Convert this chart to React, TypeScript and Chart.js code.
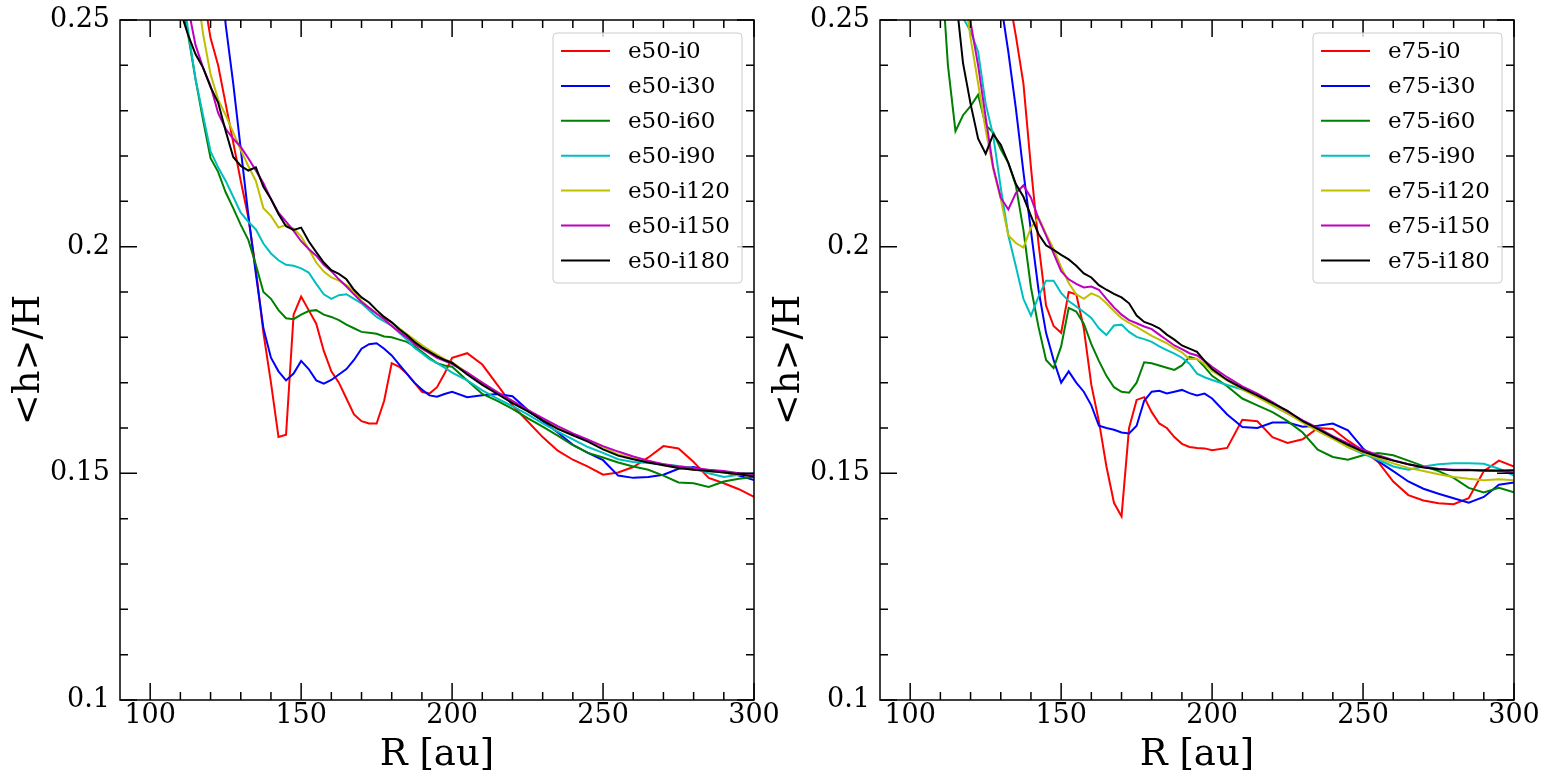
import React, { useEffect, useRef } from 'react';
import { Chart, registerables } from 'chart.js';

Chart.register(...registerables);

// radial grid [au]
const radius = [
  100, 102.5, 105, 107.5, 110, 112.5, 115, 117.5, 120, 122.5,
  125, 127.5, 130, 132.5, 135, 137.5, 140, 142.5, 145, 147.5,
  150, 152.5, 155, 157.5, 160, 162.5, 165, 167.5, 170, 172.5,
  175, 177.5, 180, 182.5, 185, 187.5, 190, 192.5, 195, 197.5,
  200,
  205, 210, 215, 220, 225, 230, 235, 240, 245, 250,
  255, 260, 265, 270, 275, 280, 285, 290, 295, 300,
];

const xMajorTicks = [100, 150, 200, 250, 300];
const xMinorTicks = [110, 120, 130, 140, 160, 170, 180, 190, 210, 220, 230, 240, 260, 270, 280, 290];
const yMajorTicks = [0.1, 0.15, 0.2, 0.25];
const yMinorTicks = [0.11, 0.12, 0.13, 0.14, 0.16, 0.17, 0.18, 0.19, 0.21, 0.22, 0.23, 0.24];

const inclinations = ['i0', 'i30', 'i60', 'i90', 'i120', 'i150', 'i180'];
const lineColours = ['#ff0000', '#0000ff', '#008000', '#00bfbf', '#bfbf00', '#bf00bf', '#000000'];

// e = 0.50
const e50i0 = [
  0.33, 0.32, 0.31, 0.30, 0.29, 0.28, 0.268, 0.256, 0.246, 0.240,
  0.2315, 0.223, 0.2145, 0.2065, 0.195, 0.181, 0.170, 0.158, 0.1585, 0.185,
  0.189, 0.186, 0.183, 0.177, 0.1725, 0.170, 0.1665, 0.163, 0.1615, 0.161,
  0.161, 0.166, 0.1743, 0.1735, 0.172, 0.170, 0.168, 0.1676, 0.169, 0.172,
  0.1755,
  0.1765, 0.174, 0.1695, 0.165, 0.1615, 0.158, 0.155, 0.153, 0.1515, 0.1497,
  0.1502, 0.1514, 0.1535, 0.156, 0.1555, 0.1525, 0.149, 0.1478, 0.1465, 0.1448,
];
const e50i30 = [
  0.40, 0.39, 0.38, 0.37, 0.36, 0.345, 0.33, 0.31, 0.29, 0.268,
  0.249, 0.236, 0.2215, 0.207, 0.194, 0.182, 0.1755, 0.1725, 0.1705, 0.172,
  0.1748, 0.173, 0.1705, 0.1698, 0.1706, 0.1718, 0.173, 0.175, 0.1775, 0.1785,
  0.1787, 0.1775, 0.176, 0.174, 0.172, 0.170, 0.1685, 0.1672, 0.1669, 0.1675,
  0.168,
  0.1668, 0.1672, 0.1675, 0.167, 0.164, 0.1615, 0.159, 0.1563, 0.1545, 0.1529,
  0.1495, 0.149, 0.1492, 0.1497, 0.151, 0.1514, 0.1505, 0.1503, 0.1495, 0.1485,
];
const e50i60 = [
  0.30, 0.29, 0.28, 0.268, 0.256, 0.247, 0.237, 0.228, 0.2195, 0.2165,
  0.212, 0.2085, 0.2048, 0.2015, 0.196, 0.190, 0.1885, 0.186, 0.1842, 0.184,
  0.185, 0.1858, 0.186, 0.185, 0.1845, 0.1838, 0.1828, 0.182, 0.1812, 0.181,
  0.1808, 0.1802, 0.180, 0.1795, 0.179, 0.178, 0.1768, 0.1755, 0.1743, 0.1738,
  0.1735,
  0.1705, 0.1675, 0.166, 0.1642, 0.1622, 0.1603, 0.1583, 0.1562, 0.1545, 0.1535,
  0.1524, 0.1515, 0.1508, 0.1495, 0.148, 0.1478, 0.147, 0.1482, 0.1488, 0.1492,
];
const e50i90 = [
  0.31, 0.30, 0.29, 0.275, 0.26, 0.248, 0.237, 0.229, 0.221, 0.2175,
  0.2145, 0.211, 0.2075, 0.2055, 0.2038, 0.2007, 0.1985, 0.197, 0.196, 0.1958,
  0.1952, 0.1943, 0.1918, 0.1895, 0.1885, 0.1893, 0.1895, 0.1885, 0.1875, 0.186,
  0.1845, 0.1835, 0.1826, 0.181, 0.1795, 0.1777, 0.1765, 0.1752, 0.1743, 0.1733,
  0.1722,
  0.1705, 0.1683, 0.1665, 0.1648, 0.163, 0.161, 0.1592, 0.1575, 0.1558, 0.1545,
  0.1531, 0.1525, 0.1523, 0.152, 0.1516, 0.1512, 0.15, 0.1492, 0.1497, 0.15,
];
const e50i120 = [
  0.32, 0.31, 0.30, 0.29, 0.28, 0.27, 0.259, 0.247, 0.238, 0.2325,
  0.229, 0.2252, 0.2213, 0.2178, 0.2145, 0.2085, 0.2068, 0.2042, 0.2048, 0.204,
  0.2022, 0.1995, 0.1965, 0.1945, 0.1932, 0.1925, 0.1915, 0.1902, 0.188, 0.1865,
  0.1853, 0.1843, 0.1833, 0.182, 0.1807, 0.1795, 0.1783, 0.1772, 0.1762, 0.1752,
  0.1745,
  0.1722, 0.1698, 0.1678, 0.1658, 0.1638, 0.1618, 0.16, 0.1585, 0.1572, 0.1558,
  0.1542, 0.1533, 0.1526, 0.1518, 0.1513, 0.1508, 0.1505, 0.1502, 0.1497, 0.1495,
];
const e50i150 = [
  0.31, 0.30, 0.29, 0.28, 0.268, 0.253, 0.2445, 0.2395, 0.2355, 0.2295,
  0.226, 0.2238, 0.222, 0.2195, 0.2168, 0.214, 0.2105, 0.2075, 0.2055, 0.2035,
  0.2012, 0.1995, 0.198, 0.196, 0.1946, 0.1928, 0.1912, 0.1895, 0.1878, 0.1865,
  0.1852, 0.184, 0.1825, 0.1812, 0.18, 0.1785, 0.1775, 0.1765, 0.1755, 0.1748,
  0.1741,
  0.1722, 0.17, 0.1679, 0.166, 0.164, 0.1622, 0.1604, 0.1588, 0.1574, 0.156,
  0.1548, 0.1537, 0.1528, 0.152, 0.1515, 0.1512, 0.1508, 0.1505, 0.15, 0.1498,
];
const e50i180 = [
  0.29, 0.28, 0.272, 0.262, 0.252, 0.2468, 0.2425, 0.2395, 0.2352, 0.2318,
  0.2255, 0.2198, 0.2178, 0.2168, 0.2175, 0.2132, 0.2105, 0.2072, 0.2045, 0.2037,
  0.2042, 0.2012, 0.1988, 0.1965, 0.1948, 0.194, 0.1928, 0.1905, 0.1888, 0.1877,
  0.186, 0.1845, 0.1833, 0.1818, 0.1805, 0.179, 0.1778, 0.1768, 0.1758, 0.175,
  0.1744,
  0.1718, 0.1695, 0.1675, 0.1655, 0.1637, 0.1617, 0.1598, 0.1584, 0.157, 0.1553,
  0.1539, 0.1531, 0.1524, 0.1518, 0.1512, 0.1508, 0.1505, 0.1502, 0.1498, 0.1493,
];

// e = 0.75
const e75i0 = [
  0.40, 0.39, 0.38, 0.37, 0.36, 0.35, 0.34, 0.33, 0.32, 0.31,
  0.295, 0.28, 0.268, 0.256, 0.2465, 0.236, 0.2175, 0.2007, 0.187, 0.1825,
  0.181, 0.190, 0.1895, 0.182, 0.1695, 0.1615, 0.1515, 0.1435, 0.1405, 0.160,
  0.1662, 0.1668, 0.1635, 0.161, 0.160, 0.158, 0.1565, 0.1558, 0.1556, 0.1555,
  0.1551,
  0.1556, 0.1618, 0.1615, 0.158, 0.1567, 0.1575, 0.160, 0.1598, 0.1572, 0.155,
  0.1525, 0.1482, 0.1452, 0.144, 0.1434, 0.1432, 0.1445, 0.1505, 0.1528, 0.1515,
];
const e75i30 = [
  0.37, 0.36, 0.35, 0.34, 0.33, 0.32, 0.31, 0.30, 0.29, 0.28,
  0.27, 0.262, 0.254, 0.243, 0.2305, 0.2165, 0.2035, 0.1905, 0.181, 0.175,
  0.170, 0.1725, 0.170, 0.168, 0.165, 0.1605, 0.160, 0.1596, 0.159, 0.1588,
  0.1605, 0.166, 0.168, 0.1682, 0.1676, 0.168, 0.1684, 0.1677, 0.1672, 0.1676,
  0.1665,
  0.163, 0.1602, 0.16, 0.1612, 0.1612, 0.1603, 0.1605, 0.161, 0.1595, 0.1555,
  0.1527, 0.1505, 0.1482, 0.1466, 0.1455, 0.1445, 0.1435, 0.1448, 0.1475, 0.148,
];
const e75i60 = [
  0.36, 0.34, 0.32, 0.30, 0.265, 0.240, 0.2255, 0.229, 0.231, 0.2335,
  0.2268, 0.2252, 0.2215, 0.2185, 0.2135, 0.2037, 0.191, 0.1823, 0.175, 0.1732,
  0.178, 0.1865, 0.1857, 0.183, 0.1785, 0.1748, 0.1715, 0.169, 0.168, 0.1678,
  0.170, 0.1745, 0.1743, 0.1738, 0.1733, 0.1728, 0.1738, 0.1757, 0.1752, 0.1735,
  0.1715,
  0.1692, 0.1665, 0.165, 0.1635, 0.1615, 0.159, 0.1552, 0.1536, 0.153, 0.154,
  0.1545, 0.154, 0.1528, 0.1516, 0.1505, 0.149, 0.1468, 0.1458, 0.1468, 0.1458,
];
const e75i90 = [
  0.34, 0.33, 0.32, 0.31, 0.30, 0.29, 0.275, 0.2505, 0.2475, 0.243,
  0.2315, 0.2245, 0.213, 0.2025, 0.1957, 0.1885, 0.1848, 0.189, 0.1925, 0.1925,
  0.1898, 0.188, 0.1868, 0.1856, 0.1843, 0.182, 0.1805, 0.1826, 0.1828, 0.1812,
  0.1801, 0.1796, 0.179, 0.178, 0.1772, 0.1764, 0.1755, 0.1742, 0.172, 0.1712,
  0.1706,
  0.1695, 0.1685, 0.1672, 0.165, 0.1632, 0.1615, 0.1598, 0.158, 0.1558, 0.1543,
  0.153, 0.1515, 0.1508, 0.1515, 0.152, 0.1522, 0.1522, 0.1521, 0.151, 0.1495,
];
const e75i120 = [
  0.34, 0.33, 0.32, 0.31, 0.30, 0.29, 0.275, 0.258, 0.246, 0.236,
  0.2258, 0.2172, 0.2105, 0.2025, 0.2008, 0.1998, 0.2042, 0.2065, 0.2028, 0.1995,
  0.1955, 0.192, 0.1895, 0.1885, 0.1897, 0.189, 0.1875, 0.1858, 0.1842, 0.1832,
  0.1823, 0.1813, 0.1803, 0.1795, 0.1787, 0.1776, 0.1767, 0.1752, 0.1752, 0.1742,
  0.1726,
  0.1705, 0.1685, 0.1668, 0.165, 0.1632, 0.1612, 0.1593, 0.1576, 0.1558, 0.1545,
  0.1533, 0.1522, 0.1512, 0.1505, 0.1498, 0.1492, 0.1488, 0.1485, 0.1487, 0.1485,
];
const e75i150 = [
  0.35, 0.34, 0.33, 0.32, 0.31, 0.30, 0.285, 0.265, 0.2495, 0.240,
  0.2285, 0.2175, 0.2108, 0.2082, 0.2118, 0.2135, 0.2108, 0.2062, 0.2025, 0.1985,
  0.1946, 0.1928, 0.1918, 0.191, 0.1912, 0.1905, 0.1885, 0.1866, 0.185, 0.1838,
  0.1831, 0.1824, 0.1818, 0.1806, 0.1794, 0.1782, 0.1774, 0.1765, 0.176, 0.1748,
  0.1735,
  0.1712, 0.1692, 0.1676, 0.1657, 0.1636, 0.1617, 0.16, 0.1582, 0.1566, 0.1552,
  0.154, 0.1529, 0.152, 0.1514, 0.151, 0.1508, 0.1508, 0.1505, 0.1505, 0.1502,
];
const e75i180 = [
  0.32, 0.31, 0.30, 0.29, 0.28, 0.27, 0.256, 0.2405, 0.2315, 0.2238,
  0.2205, 0.2248, 0.2225, 0.2185, 0.2138, 0.211, 0.2068, 0.2028, 0.2003, 0.1993,
  0.1982, 0.1972, 0.1958, 0.1941, 0.1932, 0.1915, 0.1905, 0.1896, 0.1888, 0.1875,
  0.1848, 0.1834, 0.1828, 0.182, 0.1806, 0.1795, 0.1782, 0.1775, 0.1768, 0.1748,
  0.173,
  0.1706, 0.1688, 0.1672, 0.1655, 0.1638, 0.1615, 0.1598, 0.158, 0.1563, 0.1548,
  0.1537, 0.1528, 0.152, 0.1513, 0.1509, 0.1507, 0.1507, 0.1507, 0.1506, 0.1507,
];

const FONT = 'DejaVu Serif';

// inward ticks on all four sides, the frame, and the legend box inside the axes
const axesDecor = {
  id: 'axesDecor',
  afterDatasetsDraw(chart: any) {
    const { ctx, chartArea: a, scales } = chart;
    const x = scales.x;
    const y = scales.y;
    ctx.save();
    ctx.strokeStyle = '#000';
    ctx.lineWidth = 1.5;
    ctx.beginPath();
    const xTick = (v: number, len: number) => {
      const px = x.getPixelForValue(v);
      ctx.moveTo(px, a.bottom);
      ctx.lineTo(px, a.bottom - len);
      ctx.moveTo(px, a.top);
      ctx.lineTo(px, a.top + len);
    };
    const yTick = (v: number, len: number) => {
      const py = y.getPixelForValue(v);
      ctx.moveTo(a.left, py);
      ctx.lineTo(a.left + len, py);
      ctx.moveTo(a.right, py);
      ctx.lineTo(a.right - len, py);
    };
    xMajorTicks.forEach((v) => xTick(v, 17));
    xMinorTicks.forEach((v) => xTick(v, 8));
    yMajorTicks.forEach((v) => yTick(v, 17));
    yMinorTicks.forEach((v) => yTick(v, 8));
    ctx.stroke();
    ctx.strokeRect(a.left, a.top, a.right - a.left, a.bottom - a.top);

    // legend
    const w = 189;
    const h = 250;
    const bx = a.right - 12 - w;
    const by = a.top + 13;
    ctx.beginPath();
    ctx.roundRect(bx, by, w, h, 4);
    ctx.fillStyle = 'rgba(255,255,255,0.8)';
    ctx.fill();
    ctx.strokeStyle = '#cccccc';
    ctx.lineWidth = 1;
    ctx.stroke();
    ctx.font = `23px "${FONT}"`;
    ctx.textBaseline = 'middle';
    ctx.textAlign = 'left';
    chart.data.datasets.forEach((ds: any, i: number) => {
      const ry = by + 18 + i * 34.9;
      ctx.strokeStyle = ds.borderColor;
      ctx.lineWidth = 2;
      ctx.beginPath();
      ctx.moveTo(bx + 8, ry);
      ctx.lineTo(bx + 57, ry);
      ctx.stroke();
      ctx.fillStyle = '#000';
      ctx.fillText(ds.label, bx + 75, ry + 1.5);
    });
    ctx.restore();
  },
};

type PanelProps = {
  prefix: string;
  series: number[][];
  left: number;
  width: number;
  padRight: number;
};

const Panel: React.FC<PanelProps> = ({ prefix, series, left, width, padRight }) => {
  const chartRef = useRef<HTMLCanvasElement>(null);

  useEffect(() => {
    if (!chartRef.current) return;
    const ctx = chartRef.current.getContext('2d');
    if (!ctx) return;

    const myChart = new Chart(ctx, {
      type: 'line',
      data: {
        datasets: series.map((vals, i) => ({
          label: `${prefix}-${inclinations[i]}`,
          data: radius.map((r, k) => ({ x: r, y: vals[k] })),
          borderColor: lineColours[i],
          backgroundColor: lineColours[i],
          borderWidth: 2,
          pointRadius: 0,
          tension: 0,
          clip: 0,
          order: series.length - i,
        })),
      },
      options: {
        animation: false,
        responsive: true,
        maintainAspectRatio: false,
        layout: { padding: { top: 20, right: padRight, left: 0, bottom: 0 } },
        plugins: { legend: { display: false }, tooltip: { enabled: false } },
        scales: {
          x: {
            type: 'linear',
            min: 90,
            max: 300,
            grid: { display: false, drawTicks: false },
            border: { display: false },
            ticks: {
              color: '#000',
              font: { family: FONT, size: 27 },
              padding: 0,
              autoSkip: false,
              maxRotation: 0,
            },
            afterBuildTicks: (s: any) => {
              s.ticks = xMajorTicks.map((v) => ({ value: v }));
            },
            afterFit: (s: any) => {
              s.height = 84;
              s.paddingLeft = 0;
              s.paddingRight = 0;
            },
            title: {
              display: true,
              text: 'R [au]',
              color: '#000',
              font: { family: FONT, size: 37 },
              padding: { top: 0, bottom: 6 },
            },
          },
          y: {
            type: 'linear',
            min: 0.1,
            max: 0.25,
            grid: { display: false, drawTicks: false },
            border: { display: false },
            ticks: {
              color: '#000',
              font: { family: FONT, size: 27 },
              padding: 10,
              callback: (v: any) => String(Number(Number(v).toFixed(2))),
            },
            afterBuildTicks: (s: any) => {
              s.ticks = yMajorTicks.map((v) => ({ value: v }));
            },
            afterFit: (s: any) => {
              s.width = 120;
              s.paddingTop = 0;
              s.paddingBottom = 0;
            },
            title: {
              display: true,
              text: '<h>/H',
              color: '#000',
              font: { family: FONT, size: 37 },
              padding: { top: 7, bottom: 0 },
            },
          },
        },
      },
      plugins: [axesDecor],
    });

    return () => {
      myChart.destroy();
    };
  }, []);

  return (
    <div style={{ position: 'absolute', left, top: 0, width, height: 784 }}>
      <canvas ref={chartRef} />
    </div>
  );
};

export default function App() {
  return (
    <div style={{ position: 'fixed', left: 0, top: 0, width: 1551, height: 784, background: '#fff' }}>
      <Panel
        prefix="e50"
        series={[e50i0, e50i30, e50i60, e50i90, e50i120, e50i150, e50i180]}
        left={0}
        width={780}
        padRight={26}
      />
      <Panel
        prefix="e75"
        series={[e75i0, e75i30, e75i60, e75i90, e75i120, e75i150, e75i180]}
        left={760}
        width={791}
        padRight={37}
      />
    </div>
  );
}
